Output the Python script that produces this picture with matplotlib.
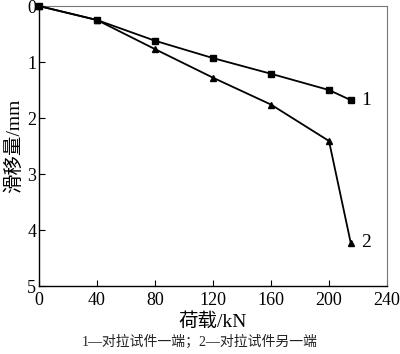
import matplotlib
matplotlib.use("Agg")
import matplotlib.pyplot as plt

load = [0, 40, 80, 120, 160, 200, 215]
slip1 = [0, 0.25, 0.62, 0.93, 1.21, 1.50, 1.68]
slip2 = [0, 0.25, 0.77, 1.28, 1.76, 2.41, 4.23]
xticks = [0, 40, 80, 120, 160, 200, 240]
yticks = [0, 1, 2, 3, 4, 5]

plt.rcParams['font.family'] = ['Liberation Serif', 'Noto Sans CJK SC']

fig = plt.figure(figsize=(4.0, 3.54), dpi=100)
ax = fig.add_axes([0.0975, 0.192, 0.87, 0.791])

ax.plot(load, slip1, color='black', lw=1.3, marker='s', ms=4.5, clip_on=False, zorder=3)
ax.plot(load, slip2, color='black', lw=1.3, marker='^', ms=4.5, clip_on=False, zorder=3)
ax.text(222, 1.68, '1', fontsize=14, va='center', ha='left')
ax.text(222, 4.23, '2', fontsize=14, va='center', ha='left')

ax.set_xlim(0, 240)
ax.set_ylim(5, 0)
ax.set_xticks(xticks)
ax.set_yticks(yticks)
ax.tick_params(direction='in', length=4, labelsize=13, top=False, right=False)
ax.tick_params(axis='x', pad=4)
ax.tick_params(axis='y', pad=2)
for s in ['top', 'right']:
    ax.spines[s].set_color('#777777')
for s in ['left', 'bottom']:
    ax.spines[s].set_color('black')
    ax.spines[s].set_linewidth(1.0)

ax.set_xlabel('荷载/kN', fontsize=14, labelpad=3)
ax.set_ylabel('滑移量/mm', fontsize=14, labelpad=3)
fig.text(0.5, 0.015, '1—对拉试件一端；2—对拉试件另一端', ha='center', va='bottom', fontsize=10, color='#222222')

fig.savefig('out.png', dpi=100)
